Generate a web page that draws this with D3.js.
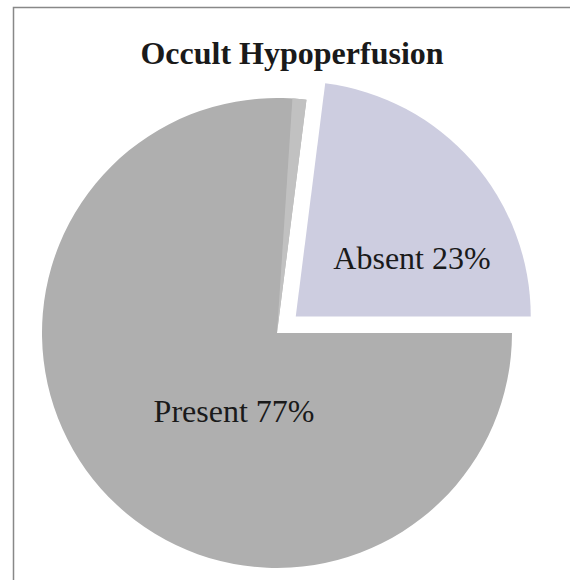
<!DOCTYPE html>
<html>
<head>
<meta charset="utf-8">
<script src="https://cdn.jsdelivr.net/npm/d3@7"></script>
<style>
  body { margin: 0; background: #fff; }
  text { font-family: "Liberation Serif", "Times New Roman", serif; }
</style>
</head>
<body>
<div id="chart"></div>
<script>
// Chart data
const categories = ["Present", "Absent"];
const percents = [77, 23];
const colors = ["#afafaf", "#cdcde0"];
const title = "Occult Hypoperfusion";

const width = 570;
const height = 580;
const cx = 277, cy = 333;
const radius = 235;
const explode = { Absent: 25, Present: 0 };
// label offsets from the pie centre (Excel's placement)
const labelPos = { Present: [-43, 78], Absent: [135, -75] };

const svg = d3.select("#chart")
  .append("svg")
  .attr("width", width)
  .attr("height", height);

// chart frame
svg.append("rect")
  .attr("x", 13.5)
  .attr("y", 7.5)
  .attr("width", 600)
  .attr("height", 600)
  .attr("fill", "#fff")
  .attr("stroke", "#888")
  .attr("stroke-width", 1.5);

svg.append("text")
  .attr("x", 292)
  .attr("y", 64)
  .attr("text-anchor", "middle")
  .attr("font-size", 32)
  .attr("font-weight", "bold")
  .attr("fill", "#1a1a1a")
  .text(title);

const data = categories.map((c, i) => ({ name: c, value: percents[i], color: colors[i] }));

const pie = d3.pie()
  .sort(null)
  .value(d => d.value)
  .startAngle(Math.PI / 2)
  .endAngle(Math.PI / 2 + 2 * Math.PI);

const arc = d3.arc().innerRadius(0).outerRadius(radius);

const g = svg.append("g").attr("transform", `translate(${cx},${cy})`);

const slices = g.selectAll(".slice")
  .data(pie(data))
  .enter()
  .append("g")
  .attr("class", "slice")
  .attr("transform", d => {
    const mid = (d.startAngle + d.endAngle) / 2;
    const off = explode[d.data.name];
    return `translate(${Math.sin(mid) * off},${-Math.cos(mid) * off})`;
  });

slices.append("path")
  .attr("d", arc)
  .attr("fill", d => d.data.color);

// lighter sheen along the trailing edge of the Present slice
slices.filter(d => d.data.name === "Present")
  .append("path")
  .attr("d", d => arc({ startAngle: d.endAngle - 0.06, endAngle: d.endAngle }))
  .attr("fill", "#c1c1c1");

g.selectAll(".label")
  .data(pie(data))
  .enter()
  .append("text")
  .attr("class", "label")
  .attr("x", d => labelPos[d.data.name][0])
  .attr("y", d => labelPos[d.data.name][1])
  .attr("dy", "0.35em")
  .attr("text-anchor", "middle")
  .attr("font-size", 32)
  .attr("fill", "#1a1a1a")
  .text(d => `${d.data.name} ${d.data.value}%`);
</script>
</body>
</html>
